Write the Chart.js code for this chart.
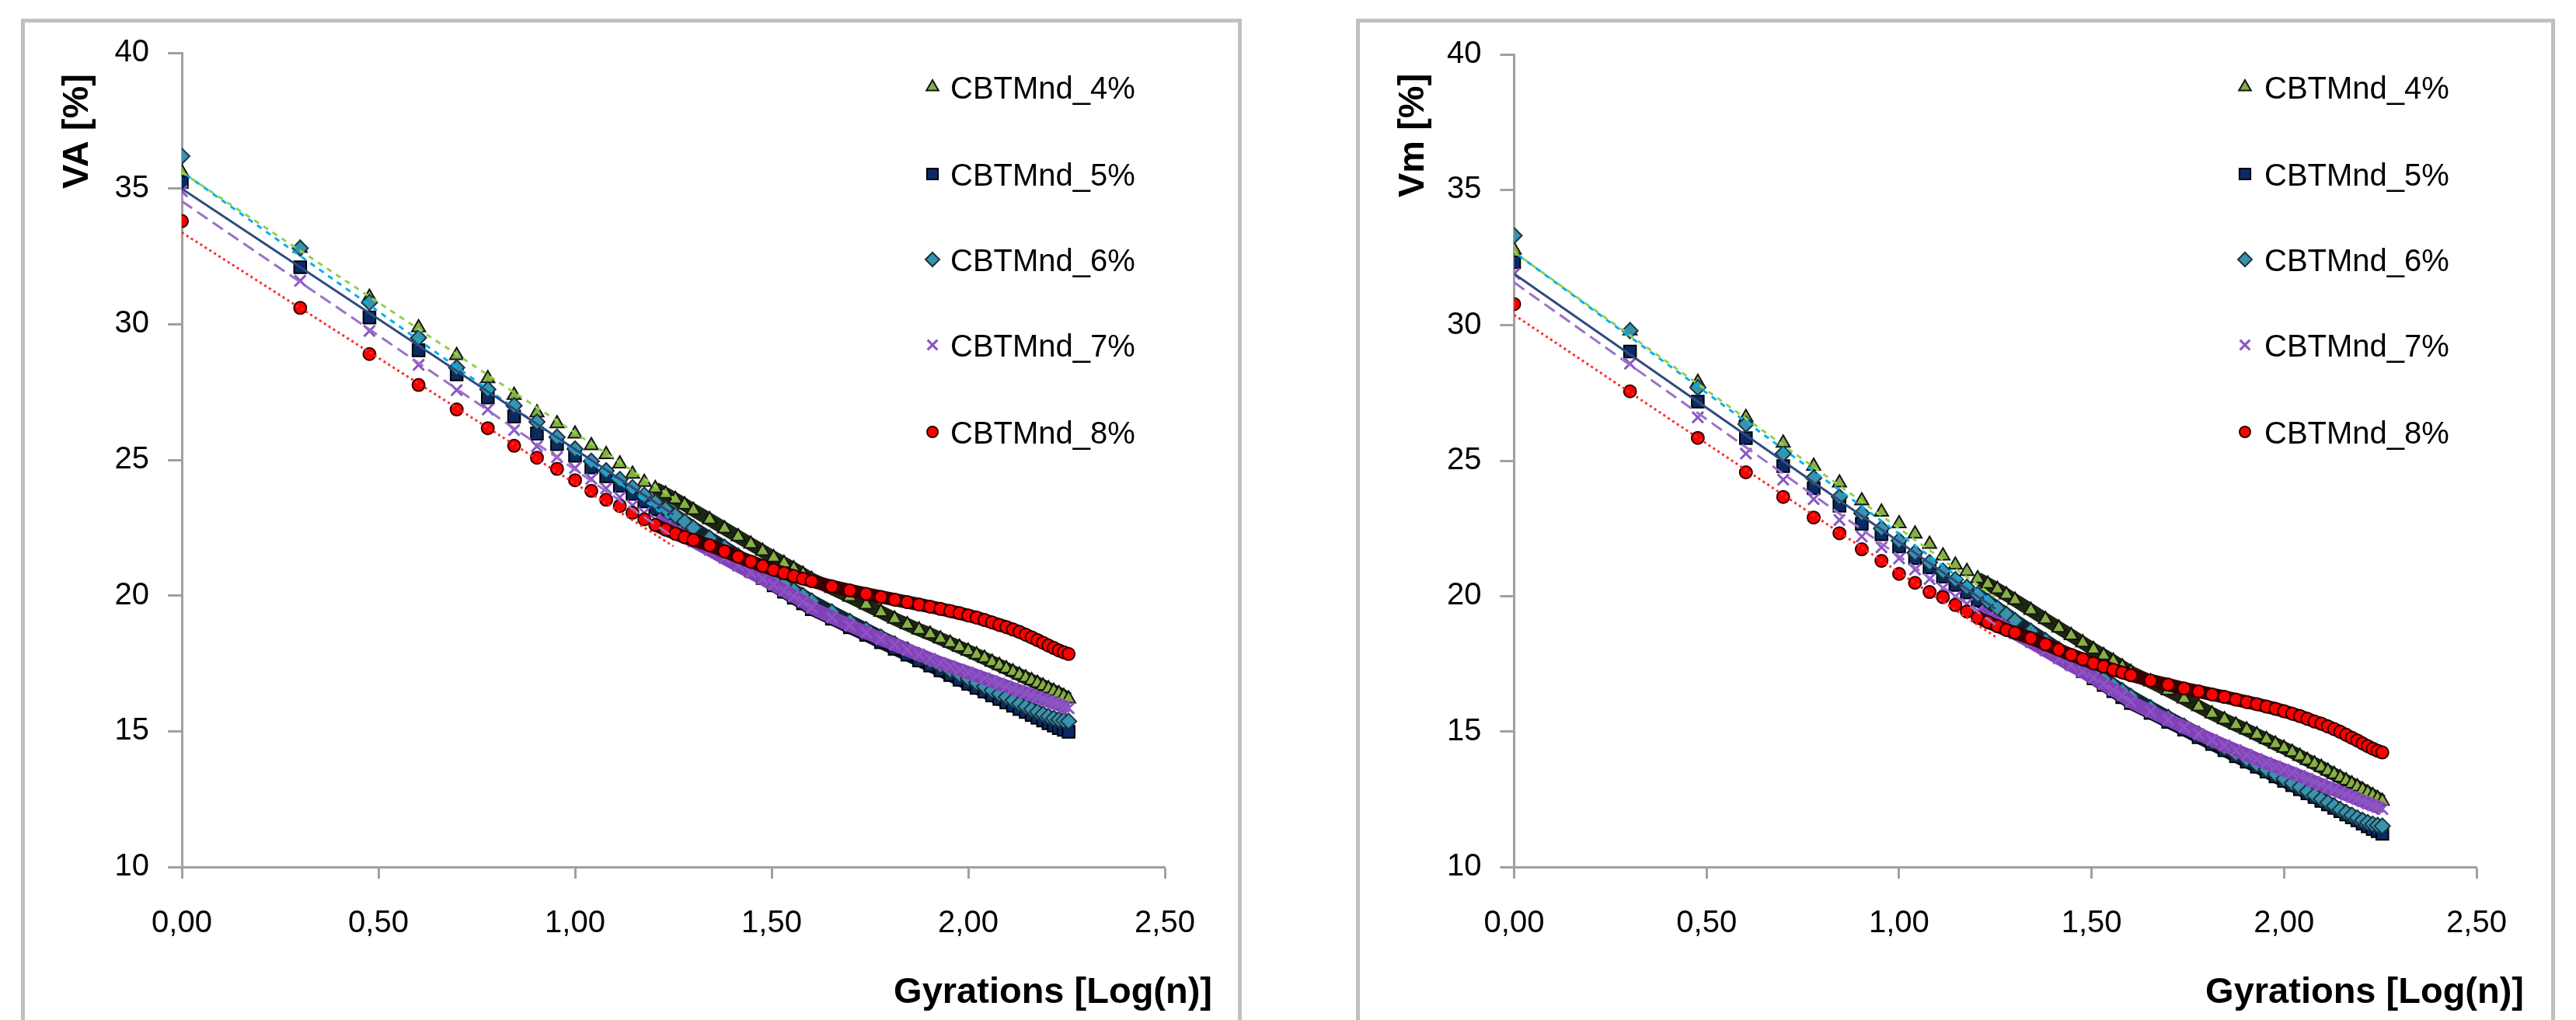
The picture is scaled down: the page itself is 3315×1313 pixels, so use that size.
<!DOCTYPE html>
<html>
<head>
<meta charset="utf-8">
<script src="https://cdn.jsdelivr.net/npm/chart.js@4.4.1/dist/chart.umd.min.js"></script>
<style>
  html, body { margin: 0; padding: 0; background: #fff; }
  body { width: 3315px; height: 1313px; position: relative; overflow: hidden; }
  .frame { position: absolute; top: 24px; height: 1400px; border: 5px solid #c0c0c0; box-sizing: border-box; }
  .plot { position: absolute; top: 0; }
</style>
</head>
<body>
<div class="frame" style="left:27px;width:1571px"></div>
<div class="frame" style="left:1745px;width:1543px"></div>
<div class="plot" style="left:0"><canvas id="chartVA" width="1660" height="1313"></canvas></div>
<div class="plot" style="left:1680px"><canvas id="chartVm" width="1635" height="1313"></canvas></div>
<script>
// gyrations n (x axis is log10(n))
const gyrations = [1, 2, 3, 4, 5, 6, 7, 8, 9, 10, 11, 12, 13, 14, 15, 16, 17, 18, 19, 20,
  22, 24, 26, 28, 30, 32, 34, 36, 38, 40,
  45, 50, 55, 60, 65, 70, 75, 80, 85, 90, 95, 100, 105, 110, 115, 120, 125, 130, 135, 140,
  145, 150, 155, 160, 165, 170, 175, 180];

const seriesNames = ['CBTMnd_4%', 'CBTMnd_5%', 'CBTMnd_6%', 'CBTMnd_7%', 'CBTMnd_8%'];

// VA [%]
const va4 = [35.6, 32.8, 31.0, 29.87, 28.85, 28.0, 27.38, 26.74, 26.34, 25.96, 25.53, 25.2, 24.86, 24.48, 24.18, 23.95, 23.75, 23.55, 23.35, 23.15,
  22.8, 22.47, 22.17, 21.9, 21.64, 21.4, 21.19, 20.99, 20.79, 20.6,
  20.27, 19.95, 19.66, 19.39, 19.14, 18.93, 18.74, 18.58, 18.41, 18.25, 18.1, 17.96, 17.82, 17.69, 17.55, 17.43, 17.31, 17.19, 17.08, 16.97, 16.87, 16.77, 16.67, 16.57, 16.48, 16.39, 16.29, 16.2];
const va5 = [35.24, 32.1, 30.25, 29.04, 28.15, 27.3, 26.6, 25.97, 25.58, 25.15, 24.72, 24.39, 24.05, 23.75, 23.47, 23.2, 22.95, 22.72, 22.5, 22.3,
  21.9, 21.55, 21.22, 20.92, 20.64, 20.38, 20.14, 19.92, 19.71, 19.5,
  19.15, 18.83, 18.55, 18.28, 18.04, 17.82, 17.61, 17.42, 17.24, 17.07, 16.9, 16.75, 16.6, 16.46, 16.32, 16.19, 16.06, 15.94, 15.82, 15.71, 15.6, 15.5, 15.4, 15.3, 15.21, 15.12, 15.05, 14.98];
const va6 = [36.19, 32.8, 30.8, 29.5, 28.4, 27.6, 27.0, 26.4, 25.84, 25.4, 24.95, 24.6, 24.28, 23.98, 23.7, 23.44, 23.19, 22.95, 22.72, 22.5,
  22.12, 21.78, 21.46, 21.17, 20.9, 20.65, 20.42, 20.2, 20.0, 19.8,
  19.4, 19.05, 18.75, 18.47, 18.22, 18.0, 17.79, 17.6, 17.42, 17.25, 17.09, 16.94, 16.79, 16.65, 16.51, 16.38, 16.26, 16.14, 16.02, 15.91, 15.81, 15.72, 15.63, 15.55, 15.48, 15.43, 15.4, 15.37];
const va7 = [34.9, 31.6, 29.75, 28.5, 27.57, 26.86, 26.1, 25.5, 25.1, 24.7, 24.3, 23.95, 23.62, 23.32, 23.05, 22.8, 22.57, 22.36, 22.17, 22.0,
  21.68, 21.38, 21.1, 20.85, 20.62, 20.4, 20.18, 19.97, 19.78, 19.55,
  19.2, 18.9, 18.64, 18.4, 18.19, 18.0, 17.83, 17.67, 17.52, 17.39, 17.27, 17.16, 17.05, 16.95, 16.85, 16.75, 16.66, 16.57, 16.49, 16.41, 16.33, 16.26, 16.18, 16.11, 16.04, 15.98, 15.91, 15.85];
const va8 = [33.8, 30.6, 28.9, 27.76, 26.86, 26.17, 25.52, 25.08, 24.67, 24.25, 23.86, 23.53, 23.3, 23.05, 22.81, 22.6, 22.43, 22.28, 22.15, 22.05,
  21.85, 21.63, 21.43, 21.25, 21.09, 20.95, 20.83, 20.72, 20.62, 20.53,
  20.34, 20.19, 20.06, 19.95, 19.85, 19.76, 19.67, 19.59, 19.51, 19.43, 19.35, 19.27, 19.19, 19.1, 19.01, 18.92, 18.84, 18.75, 18.66, 18.56, 18.46, 18.36, 18.26, 18.16, 18.07, 17.98, 17.91, 17.85];

// Vm [%]
const vm4 = [32.78, 29.8, 27.9, 26.6, 25.65, 24.8, 24.18, 23.52, 23.11, 22.68, 22.3, 21.92, 21.49, 21.15, 20.91, 20.65, 20.45, 20.25, 20.05, 19.85,
  19.48, 19.14, 18.83, 18.55, 18.28, 18.03, 17.81, 17.6, 17.39, 17.19,
  16.84, 16.51, 16.21, 15.92, 15.66, 15.44, 15.24, 15.06, 14.88, 14.71, 14.54, 14.39, 14.24, 14.09, 13.94, 13.81, 13.68, 13.54, 13.42, 13.3, 13.18, 13.07, 12.96, 12.85, 12.74, 12.64, 12.53, 12.43];
const vm5 = [32.33, 29.03, 27.18, 25.83, 24.8, 23.98, 23.34, 22.67, 22.28, 21.83, 21.4, 21.06, 20.72, 20.41, 20.13, 19.85, 19.6, 19.36, 19.14, 18.93,
  18.52, 18.16, 17.82, 17.52, 17.23, 16.96, 16.72, 16.49, 16.27, 16.05,
  15.69, 15.36, 15.07, 14.79, 14.54, 14.31, 14.09, 13.89, 13.7, 13.52, 13.34, 13.18, 13.02, 12.87, 12.72, 12.58, 12.44, 12.31, 12.18, 12.06, 11.94, 11.83, 11.72, 11.6, 11.5, 11.4, 11.32, 11.23];
const vm6 = [33.31, 29.8, 27.7, 26.35, 25.26, 24.36, 23.66, 23.06, 22.5, 22.05, 21.6, 21.24, 20.92, 20.61, 20.33, 20.06, 19.81, 19.56, 19.33, 19.1,
  18.71, 18.36, 18.03, 17.73, 17.45, 17.19, 16.95, 16.72, 16.51, 16.3,
  15.88, 15.52, 15.2, 14.91, 14.64, 14.41, 14.19, 13.98, 13.79, 13.6, 13.43, 13.26, 13.1, 12.95, 12.79, 12.65, 12.51, 12.38, 12.25, 12.12, 12.01, 11.91, 11.81, 11.72, 11.64, 11.58, 11.54, 11.51];
const vm7 = [31.9, 28.58, 26.6, 25.26, 24.3, 23.58, 22.81, 22.2, 21.8, 21.39, 20.98, 20.63, 20.29, 19.98, 19.71, 19.45, 19.21, 19.0, 18.8, 18.62,
  18.3, 17.99, 17.7, 17.44, 17.21, 16.98, 16.75, 16.53, 16.34, 16.1,
  15.74, 15.43, 15.16, 14.91, 14.69, 14.49, 14.31, 14.14, 13.98, 13.84, 13.71, 13.59, 13.47, 13.36, 13.25, 13.14, 13.04, 12.94, 12.85, 12.76, 12.67, 12.59, 12.51, 12.43, 12.35, 12.28, 12.21, 12.14];
const vm8 = [30.78, 27.56, 25.84, 24.57, 23.66, 22.9, 22.32, 21.73, 21.3, 20.82, 20.49, 20.15, 19.96, 19.67, 19.43, 19.21, 19.04, 18.89, 18.75, 18.65,
  18.45, 18.22, 18.02, 17.83, 17.67, 17.52, 17.4, 17.28, 17.18, 17.08,
  16.88, 16.73, 16.59, 16.48, 16.37, 16.28, 16.18, 16.09, 16.01, 15.92, 15.84, 15.75, 15.66, 15.57, 15.47, 15.37, 15.29, 15.19, 15.09, 14.99, 14.88, 14.77, 14.67, 14.56, 14.46, 14.37, 14.29, 14.23];

// linear trend lines, drawn over the early gyrations only
const trendLogN = [0, 1.25];
const vaTrendStart = [35.6, 34.99, 35.62, 34.53, 33.38];
const vaTrendEnd = [23.6, 22.99, 22.74, 22.16, 21.82];
const vmTrendStart = [32.7, 31.9, 32.7, 31.58, 30.38];
const vmTrendEnd = [19.95, 19.53, 19.7, 18.95, 18.5];

const xTickValues = [0, 0.5, 1, 1.5, 2, 2.5];
const yTickValues = [10, 15, 20, 25, 30, 35, 40];

const axisGray = '#a0a0a0';
const markers = [
  { shape: 'triangle', radius: 10, fill: '#86b043', edge: '#141414', edgeW: 2, band: '#1c2612', trend: '#92d050', dash: [7, 7], dashOff: 0 },
  { shape: 'rect', radius: 11, fill: '#0a2a66', edge: '#000000', edgeW: 2, band: '#07122a', trend: '#2f4b7f', dash: [], dashOff: 0 },
  { shape: 'rectRot', radius: 10, fill: '#3a92ad', edge: '#1a3540', edgeW: 2, band: '#0a2633', trend: '#00b0f0', dash: [7, 7], dashOff: 7 },
  { shape: 'crossRot', radius: 10, fill: '#8b55c2', edge: '#8b55c2', edgeW: 3, band: '#8341b8', trend: '#9a70c8', dash: [16, 8], dashOff: 0 },
  { shape: 'circle', radius: 8, fill: '#ff0000', edge: '#300000', edgeW: 2, band: '#3a0000', trend: '#ff2a2a', dash: [3, 4], dashOff: 0 }
];

const overlayPlugin = {
  id: 'overlay',
  afterDraw(chart, args, o) {
    const ctx = chart.ctx;
    ctx.save();
    seriesNames.forEach((name, i) => {
      const m = markers[i];
      const y = o.rows[i];
      ctx.fillStyle = m.fill;
      ctx.strokeStyle = m.edge;
      ctx.lineWidth = m.edgeW;
      Chart.helpers.drawPoint(ctx, { pointStyle: m.shape, radius: m.radius - 1, borderWidth: m.edgeW, rotation: 0 }, o.markerX, y);
      ctx.fillStyle = '#000';
      ctx.font = '40px "Liberation Sans"';
      ctx.textAlign = 'left';
      ctx.textBaseline = 'alphabetic';
      ctx.fillText(name, o.textX, y + 14.5);
    });
    ctx.fillStyle = '#000';
    ctx.font = 'bold 47px "Liberation Sans"';
    ctx.textAlign = 'right';
    ctx.textBaseline = 'alphabetic';
    ctx.fillText(o.xTitle, o.xTitleRight, o.xTitleBase);
    ctx.translate(o.yTitleBase, o.yTitleStart);
    ctx.rotate(-Math.PI / 2);
    ctx.textAlign = 'left';
    ctx.fillText(o.yTitle, 0, 0);
    ctx.restore();
  }
};

function makeChart(id, series, tStart, tEnd, g) {
  const datasets = [];
  series.forEach((vals, i) => {
    const m = markers[i];
    datasets.push({
      label: seriesNames[i],
      data: gyrations.map((n, k) => ({ x: Math.log10(n), y: vals[k] })),
      showLine: true,
      borderColor: m.band,
      borderWidth: 17,
      borderJoinStyle: 'round',
      segment: { borderColor: c => (c.p0.parsed.x >= 1.2 ? m.band : 'rgba(0,0,0,0)') },
      pointStyle: m.shape,
      pointRadius: m.radius,
      pointBackgroundColor: m.fill,
      pointBorderColor: m.edge,
      pointBorderWidth: m.edgeW,
      order: 6 - i
    });
  });
  series.forEach((vals, i) => {
    const m = markers[i];
    datasets.push({
      label: 'trend ' + seriesNames[i],
      data: trendLogN.map((x, k) => ({ x: x, y: k === 0 ? tStart[i] : tEnd[i] })),
      showLine: true,
      pointRadius: 0,
      borderColor: m.trend,
      borderWidth: 3,
      borderDash: m.dash,
      borderDashOffset: m.dashOff,
      order: 0
    });
  });

  return new Chart(document.getElementById(id), {
    type: 'scatter',
    data: { datasets: datasets },
    options: {
      responsive: false,
      animation: false,
      events: [],
      layout: { padding: { left: g.padL, top: g.padT, right: g.padR, bottom: g.padB } },
      plugins: {
        legend: { display: false },
        tooltip: { enabled: false },
        overlay: g.overlay
      },
      scales: {
        x: {
          type: 'linear',
          min: 0,
          max: 2.5,
          afterFit: s => { s.height = 150; },
          afterBuildTicks: s => { s.ticks = xTickValues.map(v => ({ value: v })); },
          ticks: {
            callback: v => v.toFixed(2).replace('.', ','),
            font: { family: 'Liberation Sans', size: 40 },
            color: '#000',
            padding: 34,
            maxRotation: 0,
            autoSkip: false
          },
          grid: { drawOnChartArea: false, drawTicks: true, tickLength: 15, tickColor: axisGray, tickWidth: 3 },
          border: { color: axisGray, width: 3 }
        },
        y: {
          min: 10,
          max: 40,
          afterFit: s => { s.width = 200; },
          afterBuildTicks: s => { s.ticks = yTickValues.map(v => ({ value: v })); },
          ticks: {
            font: { family: 'Liberation Sans', size: 40 },
            color: '#000',
            padding: 24
          },
          grid: { drawOnChartArea: false, drawTicks: true, tickLength: 18, tickColor: axisGray, tickWidth: 3 },
          border: { color: axisGray, width: 3 }
        }
      }
    },
    plugins: [overlayPlugin]
  });
}

makeChart('chartVA', [va4, va5, va6, va7, va8], vaTrendStart, vaTrendEnd, {
  padL: 34, padT: 68, padR: 161, padB: 47,
  overlay: {
    rows: [112, 224, 334, 444, 556], markerX: 1200, textX: 1223,
    xTitle: 'Gyrations [Log(n)]', xTitleRight: 1560, xTitleBase: 1291,
    yTitle: 'VA [%]', yTitleBase: 113, yTitleStart: 243
  }
});

makeChart('chartVm', [vm4, vm5, vm6, vm7, vm8], vmTrendStart, vmTrendEnd, {
  padL: 68.5, padT: 70, padR: 128, padB: 47,
  overlay: {
    rows: [112, 224, 334, 444, 556], markerX: 1209, textX: 1234,
    xTitle: 'Gyrations [Log(n)]', xTitleRight: 1568, xTitleBase: 1291,
    yTitle: 'Vm [%]', yTitleBase: 152, yTitleStart: 254
  }
});
</script>
</body>
</html>
